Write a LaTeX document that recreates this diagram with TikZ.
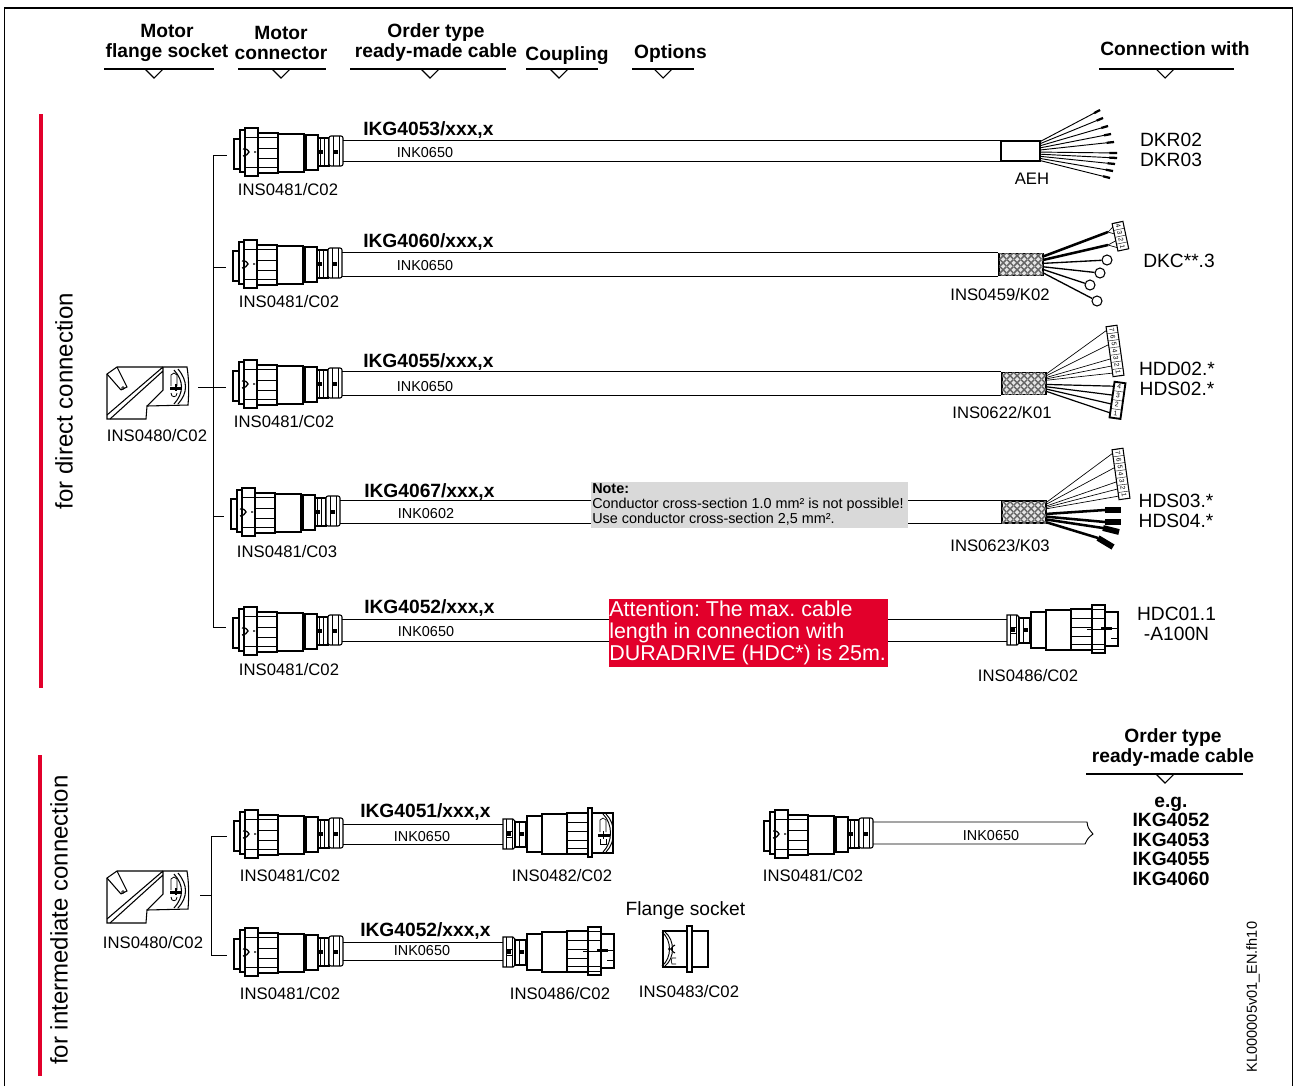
\documentclass[tikz,border=0pt]{standalone}
\usepackage{fontspec}
\setmainfont{Liberation Sans}
\usepackage{tikz}
\usetikzlibrary{calc,patterns}
\definecolor{signalred}{RGB}{226,0,43}
\definecolor{notegray}{RGB}{217,217,217}
\frenchspacing

% braid of the shielded cable ends
\pgfdeclarepatternformonly{shieldmesh}{\pgfqpoint{0pt}{0pt}}{\pgfqpoint{5pt}{5pt}}{\pgfqpoint{5pt}{5pt}}{
    \pgfsetlinewidth{1.1pt}
    \pgfpathmoveto{\pgfqpoint{0pt}{0pt}}
    \pgfpathlineto{\pgfqpoint{5pt}{5pt}}
    \pgfpathmoveto{\pgfqpoint{0pt}{5pt}}
    \pgfpathlineto{\pgfqpoint{5pt}{0pt}}
    \pgfusepath{stroke}
}

% drawn parts shared by the couplings
\newcommand{\couplingneck}{
    \draw[partline] (0,-15) -- (10,-15) -- (12,-13) -- (12,13) -- (10,15) -- (0,15) -- cycle;
    \draw[thin] (3,-15) -- (3,15) (9,-15) -- (9,15) (3,-3) -- (9,-3) (3,3) -- (9,3);
    \fill (4,-2) rectangle (8,2);
    \draw[partline] (12,-12) rectangle (24,13);
    \draw[thin] (16,-12) -- (16,13) (22,-12) -- (22,13);
    \fill (17,-2) rectangle (21,2);
    \draw[partline] (24,-18) rectangle (39,18);
    \draw[partline,line width=1.2pt] (39,-20) rectangle (64,20);
    \draw[partline] (64,-21) rectangle (85,20);
    \draw[thin] (64,-12) -- (85,-12) (64,-3) -- (85,-3) (64,6) -- (85,6) (64,14) -- (85,14);
}
\newcommand{\fanrule}[4]{
    \draw[headline] (#1,#4) -- (#2,#4);
    \draw[headline] ({#3-9},#4) -- (#3,{#4+9}) -- ({#3+9},#4);
}

\tikzset{
    x=0.75pt,y=-0.75pt,
    partline/.style={draw,line width=0.8pt,fill=white},
    headline/.style={line width=0.8pt},
    busline/.style={line width=0.7pt},
    cableline/.style={line width=0.7pt},
    wire/.style={line width=0.7pt},
    pinwire/.style={line width=0.5pt},
    thickwire/.style={line width=1.9pt},
    wirebar/.style={line width=1.7pt},
    redbar/.style={signalred,line width=2.4pt},
    headtext/.style={font=\fontsize{14.4}{15}\selectfont\bfseries,align=center,inner sep=0pt},
    parttext/.style={font=\fontsize{12.5}{14}\selectfont,inner sep=0pt},
    inktext/.style={font=\fontsize{10.8}{12}\selectfont,inner sep=0pt},
    ordertext/.style={font=\fontsize{14.4}{15}\selectfont\bfseries,inner sep=0pt,anchor=west},
    conntext/.style={font=\fontsize{14.4}{15}\selectfont,align=center,inner sep=0pt},
    sidetext/.style={font=\fontsize{18}{20}\selectfont,rotate=90,inner sep=0pt},
    aehbox/.style={draw,fill=white,line width=1.1pt,minimum width=29pt,minimum height=15pt,inner sep=0pt},
    shieldbox/.style={draw,line width=1.2pt,fill=gray!20,postaction={pattern=shieldmesh,pattern color=black!60},minimum width=33pt,minimum height=16.5pt,inner sep=0pt},
    ringlug/.style={circle,draw,fill=white,line width=0.8pt,minimum size=7.5pt,inner sep=0pt},
    pics/pinstrip/.style n args={4}{code={
        \draw[partline,line width=#3] (-5.5,0) rectangle (5.5,{#1*#2});
        \foreach \i in {1,...,#1} {
            \coordinate (-p\i) at (-5.5,{(#1-\i+0.5)*#2});
            \node[rotate=#4,font=\fontsize{5}{5}\selectfont,inner sep=0pt] at (0,{(#1-\i+0.5)*#2}) {\i};
            \draw[line width=0.3pt] (-5.5,{(#1-\i)*#2}) -- (5.5,{(#1-\i)*#2});
        }
    }},
    pics/motorplug/.style={code={
        \draw[partline] (-109,-13) rectangle (-103,17);
        \draw[partline] (-103,-22) rectangle (-98,20);
        \draw[partline] (-98,-24) rectangle (-85,24);
        \draw[partline] (-85,-19) rectangle (-65,21);
        \draw[thin] (-98,-15) -- (-65,-15) (-85,-4) -- (-65,-4) (-85,6) -- (-65,6) (-98,15) -- (-65,15);
        \draw[line width=1pt] (-100,-3) .. controls (-96,-3) .. (-94,0) .. controls (-96,3) .. (-100,4) (-89,0) -- (-87,0);
        \draw[partline,line width=1.1pt] (-65,-18) rectangle (-39,20);
        \draw[partline] (-37,-17) rectangle (-25,18);
        \draw[partline] (-25,-14) rectangle (-14,14);
        \draw[thin] (-23,-14) -- (-23,14) (-19,-14) -- (-19,14);
        \fill (-24,-2) rectangle (-20,2);
        \draw[partline,rounded corners=1.5pt] (-14,-16) rectangle (0,14);
        \draw[thin] (-10,-16) -- (-10,14) (-4,-16) -- (-4,14);
        \fill (-9,-2) rectangle (-5,2);
        \coordinate (-west) at (-116,3);
        \coordinate (-top) at (0,-10);
    }},
    pics/elbowsocket/.style={code={
        \draw[partline] (0,7) -- (10,0) -- (80,0) .. controls (82,12) and (82,26) .. (81,38) -- (40,39) -- (39,52) -- (0,52) -- cycle;
        \draw[headline] (0,48) -- (56,0) (3,52) -- (56,4) (56,0) -- (56,23) -- (40,39);
        \draw[headline] (0,7) -- (14,23) (10,0) -- (20,20) -- (14,23);
        \draw[line width=0.5pt] (16,21) circle (1.1pt);
        \draw[headline] (71,2) .. controls (81,14) and (81,26) .. (71,37);
        \draw[headline] (67,3) .. controls (77,14) and (77,26) .. (67,37);
        \draw[line width=0.6pt] (64,19) -- (64,8) -- (67,6) -- (70,8) -- (70,19);
        \draw[line width=0.6pt] (64,26) .. controls (64,31) and (70,31) .. (70,26);
        \fill (63,20) rectangle (75,23);
        \draw[line width=0.8pt] (69,17) -- (69,24);
    }},
    pics/coupling482/.style={code={
        \couplingneck
        \draw[partline] (89,-21) rectangle (110,19);
        \draw[partline,line width=0.9pt] (85,-26) rectangle (89,23);
        \draw[line width=0.7pt] (100,-20) .. controls (110,-10) and (110,8) .. (100,18);
        \draw[line width=0.7pt] (103,-20) .. controls (113,-10) and (113,8) .. (103,18);
        \draw[line width=0.5pt] (97,-2) -- (97,-14) -- (100,-16) -- (103,-14) -- (103,-2);
        \fill (95,0) rectangle (107,2.5);
        \draw[line width=0.7pt] (100,-3) -- (100,5);
        \draw[line width=0.5pt] (97,5) -- (97,10) -- (103,10) -- (103,5);
        \coordinate (-west) at (0,0);
    }},
    pics/coupling486/.style={code={
        \couplingneck
        \draw[partline] (85,-25) rectangle (98,23);
        \draw[thin] (85,-21) -- (98,-21) (85,-12) -- (98,-12) (85,14) -- (98,14) (85,19) -- (98,19);
        \draw[partline] (98,-18) rectangle (111,16);
        \draw[line width=0.6pt] (104,-2) -- (111,-2) (104,8) -- (111,8);
        \fill (94,-3) rectangle (105,0);
        \draw[thin] (80,-1) -- (94,-1);
        \coordinate (-west) at (0,0);
    }},
    pics/flangeplug/.style={code={
        \draw[partline] (0,-18) rectangle (24,18);
        \draw[partline] (29,-18) rectangle (45,18);
        \draw[partline,line width=0.9pt] (24,-23) rectangle (29,23);
        \draw[line width=0.7pt] (2,-17) .. controls (12,-9) and (12,9) .. (2,17);
        \draw[line width=0.7pt] (-1,-17) .. controls (9,-9) and (9,9) .. (-1,17);
        \draw[line width=0.8pt] (12,-4) .. controls (10,-3) .. (8,0) .. controls (10,3) .. (12,4) (8,0) -- (5,0);
        \draw[line width=0.5pt] (13,9) -- (9,9) .. controls (8,12) .. (9,15) -- (13,15);
    }}
}

\begin{document}
\begin{tikzpicture}
    \useasboundingbox (0,0) rectangle (1295,1086);
    \draw[line width=1.1pt] (4.5,1086) -- (4.5,8) -- (1292.5,8) -- (1292.5,1086);

    % Column heads
    \node[headtext] (headA) at (167,43) {Motor\\flange socket};
    \node[headtext] (headB) at (281,42.5) {Motor\\connector};
    \node[headtext] (headC) at (436,43) {Order type\\ready-made cable};
    \node[headtext] (headD) at (567,55.5) {Coupling};
    \node[headtext] (headE) at (670.5,54) {Options};
    \node[headtext] (headF) at (1175,49) {Connection with};
    \node[headtext] (headG) at (1173,748) {Order type\\ready-made cable};
    \fanrule{104}{214}{154}{69}
    \fanrule{238}{326}{281}{69}
    \fanrule{350}{506}{430}{69}
    \fanrule{526}{598}{559}{69}
    \fanrule{632}{694}{663}{69}
    \fanrule{1099}{1234}{1165}{69}
    \fanrule{1086}{1243}{1165}{774}

    % Side marks
    \draw[redbar] (41,114) -- (41,688);
    \draw[redbar] (40,755) -- (40,1076);
    \node[sidetext] (sideA) at (64,401) {for direct connection};
    \node[sidetext] (sideB) at (59,920) {for intermediate connection};
    \node[font=\fontsize{10.9}{12}\selectfont,rotate=90,inner sep=0pt] (filetag) at (1253,997) {KL000005v01\_EN.fh10};

    % Motor sockets
    \pic (elbowA) at (107,367) {elbowsocket};
    \pic (elbowB) at (107,871) {elbowsocket};
    \node[parttext] (elbowAtext) at (157,436) {INS0480/C02};
    \node[parttext] (elbowBtext) at (153,943) {INS0480/C02};

    % Motor connectors
    \foreach \name/\xx/\yy/\lx/\ly/\part in {A/343/152/288/190/C02,B/342/264/289/302/C02,C/342/384/284/422/C02,D/340/512/287/552/C03,E/342/631/289/670/C02,F/343/834/290/876/C02,G/343/952/290/994/C02,H/873/834/813/876/C02} {
        \pic (plug\name) at (\xx,\yy) {motorplug};
        \node[parttext] (plug\name text) at (\lx,\ly) {INS0481/\part};
    }

    % Bus lines
    \coordinate (busA) at (213,155);
    \coordinate (busB) at (213,267);
    \coordinate (busC) at (213,387);
    \coordinate (busD) at (213,516);
    \coordinate (busE) at (213,627);
    \coordinate (elbowAtick) at (198,387);
    \draw[busline] (busA) -- (busE);
    \draw[busline] (busA) -- (busA -| plugA-west);
    \draw[busline] (busB) -- (busB -| plugB-west);
    \draw[busline] (elbowAtick) -- (elbowAtick -| plugC-west);
    \draw[busline] (busD) -- (busD -| plugD-west);
    \draw[busline] (busE) -- (busE -| plugE-west);
    \coordinate (busF) at (211,836);
    \coordinate (busG) at (211,955);
    \coordinate (elbowBtick) at (200,895);
    \draw[busline] (busF) -- (busG);
    \draw[busline] (busF) -- (busF -| plugF-west);
    \draw[busline] (busG) -- (busG -| plugG-west);
    \draw[busline] (elbowBtick) -- (elbowBtick -| busF);

    % Cable ends
    \node[aehbox] (endA) at (1020.5,151) {};
    \node[shieldbox] (endB) at (1021,264.5) {};
    \node[shieldbox] (endC) at (1024,383.5) {};
    \node[shieldbox] (endD) at (1024,512) {};
    \pic (endE) at (1007,630) {coupling486};
    \pic (endF) at (503,834) {coupling482};
    \pic (endG) at (503,952) {coupling486};
    \pic (flange) at (663,949) {flangeplug};
    \node[parttext] (endAtext) at (1032,179) {AEH};
    \node[parttext] (endBtext) at (1000,295) {INS0459/K02};
    \node[parttext] (endCtext) at (1002,413) {INS0622/K01};
    \node[parttext] (endDtext) at (1000,546) {INS0623/K03};
    \node[parttext] (endEtext) at (1028,676) {INS0486/C02};
    \node[parttext] (endFtext) at (562,876) {INS0482/C02};
    \node[parttext] (endGtext) at (560,994) {INS0486/C02};

    % Cables
    \draw[cableline] (endA.north west) -- (endA.north west -| plugA-top) (endA.south west) -- (endA.south west -| plugA-top);
    \draw[cableline] (endB.north west) -- (endB.north west -| plugB-top) (endB.south west) -- (endB.south west -| plugB-top);
    \draw[cableline] (endC.north west) -- (endC.north west -| plugC-top) (endC.south west) -- (endC.south west -| plugC-top);
    \draw[cableline] (endD.north west) -- (endD.north west -| plugD-top) (endD.south west) -- (endD.south west -| plugD-top);
    \coordinate (cableEtop) at (1007,619);
    \coordinate (cableEbot) at (1007,641);
    \coordinate (cableFtop) at (503,824);
    \coordinate (cableFbot) at (503,844);
    \coordinate (cableGtop) at (503,942);
    \coordinate (cableGbot) at (503,960);
    \draw[cableline] (cableEtop) -- (cableEtop -| plugE-top) (cableEbot) -- (cableEbot -| plugE-top);
    \draw[cableline] (cableFtop) -- (cableFtop -| plugF-top) (cableFbot) -- (cableFbot -| plugF-top);
    \draw[cableline] (cableGtop) -- (cableGtop -| plugG-top) (cableGbot) -- (cableGbot -| plugG-top);
    \coordinate (tornend) at (1093,834);
    \coordinate (torntop) at (1087,822);
    \coordinate (tornbot) at (1085,844);
    \draw[cableline] (torntop -| plugH-top) -- (torntop) .. controls (1088,828) .. (tornend) .. controls (1088,838) .. (tornbot) -- (tornbot -| plugH-top);

    % Order types
    \foreach \name/\xx/\yy/\order in {A/363/130/4053,B/363/242/4060,C/363/362/4055,D/364/492/4067,E/364/608/4052,F/360/812/4051,G/360/931/4052} {
        \node[ordertext] (order\name) at (\xx,\yy) {IKG\order/xxx,x};
    }
    \foreach \name/\xx/\yy/\ink in {A/425/153/0650,B/425/266/0650,C/425/387/0650,D/426/514/0602,E/426/632/0650,F/422/837/0650,G/422/951/0650,H/991/836/0650} {
        \node[inktext] (ink\name) at (\xx,\yy) {INK\ink};
    }

    % Wires with bare ends
    \foreach \tipx/\tipy [count=\i] in {1100/110,1103/118,1108/126,1111/134,1114/142,1117/153,1117/158,1115/164,1113/171,1110/178} {
        \pgfmathsetmacro\wirepos{(\i-0.5)/10}
        \coordinate (wireA\i) at ($(endA.north east)!\wirepos!(endA.south east)$);
        \coordinate (tipA\i) at (\tipx,\tipy);
        \draw[wire] (wireA\i) -- (tipA\i);
        \draw[wirebar] ($(wireA\i)!0.9!(tipA\i)$) -- (tipA\i);
    }

    % Wires with plugs and rings
    \pic[rotate=12] (pinsB) at (1117.5,222.5) {pinstrip={4}{7}{0.8pt}{-78}};
    \coordinate (forkA) at (1108,232);
    \coordinate (forkB) at (1108,245);
    \draw[thickwire] ($(endB.north east)!0.15!(endB.south east)$) -- (forkA);
    \draw[thickwire] ($(endB.north east)!0.3!(endB.south east)$) -- (forkB);
    \draw[pinwire] (pinsB-p4) -- (forkA) -- (pinsB-p3) (pinsB-p2) -- (forkB) -- (pinsB-p1);
    \foreach \ringx/\ringy/\pos [count=\i] in {1107/260/0.45,1100/273/0.6,1090/285/0.72,1097/301/0.87} {
        \node[ringlug] (ring\i) at (\ringx,\ringy) {};
        \draw[line width=1pt] ($(endB.north east)!\pos!(endB.south east)$) -- (ring\i);
    }
    \pic[rotate=8] (pinsC) at (1111.5,326) {pinstrip={7}{7.2}{0.8pt}{-82}};
    \pic[rotate=-8] (pinsD) at (1120,382.5) {pinstrip={4}{9}{1.4pt}{-8}};
    \foreach \i/\pos in {1/0.36,2/0.3,3/0.24,5/0.16,7/0.08} {
        \draw[pinwire] ($(endC.north east)!\pos!(endC.south east)$) -- (pinsC-p\i);
    }
    \foreach \i in {1,...,4} {
        \pgfmathsetmacro\wirepos{0.94-0.1*\i}
        \draw[line width=0.9pt] ($(endC.north east)!\wirepos!(endC.south east)$) -- (pinsD-p\i);
    }
    \pic[rotate=8] (pinsE) at (1117.5,449) {pinstrip={7}{7.2}{0.8pt}{-82}};
    \foreach \i/\pos in {1/0.36,2/0.3,3/0.24,5/0.16,7/0.08} {
        \draw[pinwire] ($(endD.north east)!\pos!(endD.south east)$) -- (pinsE-p\i);
    }
    \foreach \ax/\ay/\bx/\by/\pos in {1105/510/1121/510/0.58,1105/522/1121/522/0.7,1103/528/1119/532/0.82,1098/538/1113/547/0.94} {
        \draw[thickwire] ($(endD.north east)!\pos!(endD.south east)$) -- (\ax,\ay);
        \draw[line width=4.4pt] (\ax,\ay) -- (\bx,\by);
    }

    % Connection labels
    \node[conntext] (connA) at (1171,150) {DKR02\\DKR03};
    \node[conntext] (connB) at (1179,261) {DKC**.3};
    \node[conntext] (connC) at (1177,379) {HDD02.*\\HDS02.*};
    \node[conntext] (connD) at (1176,511) {HDS03.*\\HDS04.*};
    \node[conntext] (connE) at (1176.5,623.5) {HDC01.1\\-A100N};

    % Notes over the cables
    \fill[notegray] (591,482) rectangle (908,528);
    \node[font=\fontsize{10.8}{11.2}\selectfont,align=left,anchor=north west,inner sep=0pt] (noteD) at (592,483.5) {\textbf{Note:}\\Conductor cross-section 1.0 mm² is not possible!\\Use conductor cross-section 2,5 mm².};
    \fill[signalred] (609,599) rectangle (888,667);
    \node[font=\fontsize{16.1}{16.5}\selectfont,text=white,align=left,anchor=north west,inner sep=0pt] (noteE) at (609,600.5) {Attention: The max. cable\\length in connection with\\DURADRIVE (HDC*) is 25m.};

    % Lower right
    \node[font=\fontsize{14.4}{14.6}\selectfont\bfseries,align=center,inner sep=0pt] (examples) at (1171,841) {e.g.\\IKG4052\\IKG4053\\IKG4055\\IKG4060};
    \node[conntext] (flangehead) at (685.5,911) {Flange socket};
    \node[parttext] (flangetext) at (689,992) {INS0483/C02};
\end{tikzpicture}
\end{document}
